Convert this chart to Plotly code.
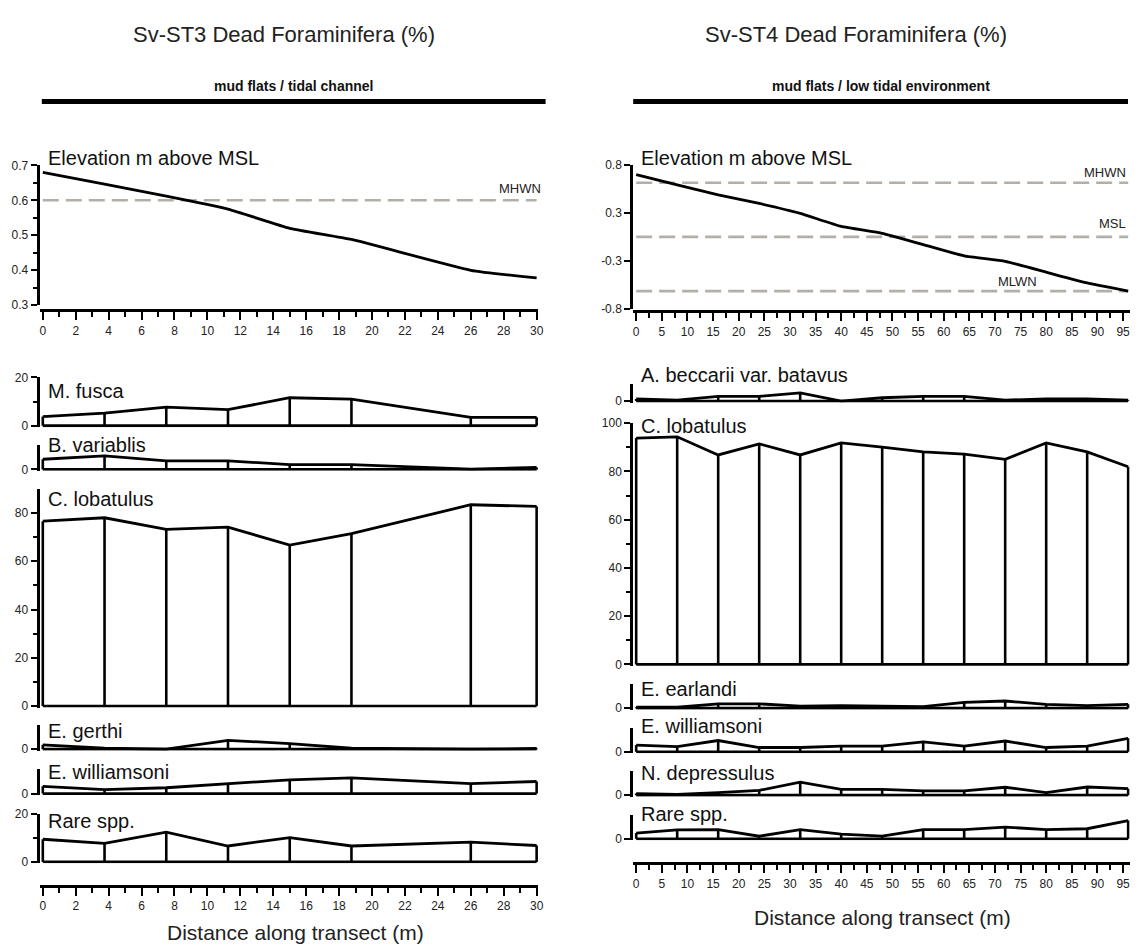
import plotly.graph_objects as go

W, H = 1138, 951
FONT = "Arial, Liberation Sans, sans-serif"

# ---------------- data : Sv-ST3 ----------------
st3_dist = [0, 3.75, 7.5, 11.25, 15, 18.75, 26, 30]
st3_elev = [0.68, 0.646, 0.612, 0.575, 0.52, 0.488, 0.40, 0.378]
st3_level_names = ["MHWN"]
st3_level_values = [0.6]
st3_m_fusca = [3.8, 5.2, 7.7, 6.7, 11.6, 11.0, 3.5, 3.5]
st3_b_variablis = [4.2, 5.6, 3.5, 3.5, 2.0, 2.0, 0.1, 0.8]
st3_c_lobatulus = [76.6, 78.0, 73.2, 74.1, 66.7, 71.4, 83.4, 82.7]
st3_e_gerthi = [1.8, 0.4, 0.0, 3.7, 2.3, 0.4, 0.0, 0.3]
st3_e_williamsoni = [3.0, 1.6, 2.4, 4.1, 5.7, 6.5, 4.1, 5.0]
st3_rare = [9.4, 7.7, 12.3, 6.6, 10.1, 6.6, 8.2, 6.8]

# ---------------- data : Sv-ST4 ----------------
st4_dist = [0, 8, 16, 24, 32, 40, 48, 56, 64, 72, 80, 88, 96]
st4_elev = [0.69, 0.575, 0.465, 0.37, 0.26, 0.116, 0.04, -0.085, -0.21, -0.27, -0.39, -0.51, -0.6]
st4_level_names = ["MHWN", "MSL", "MLWN"]
st4_level_values = [0.6, 0.0, -0.6]
st4_a_beccarii = [0.9, 0.4, 2.0, 2.0, 3.4, 0.0, 1.4, 2.0, 2.0, 0.4, 0.9, 0.9, 0.4]
st4_c_lobatulus = [93.8, 94.3, 86.8, 91.4, 86.8, 91.8, 90.0, 88.1, 87.1, 85.0, 91.8, 88.1, 81.9]
st4_e_earlandi = [0.4, 0.4, 1.8, 1.8, 0.9, 1.1, 0.9, 0.7, 2.4, 3.0, 1.6, 1.1, 1.6]
st4_e_williamsoni = [2.8, 2.2, 4.7, 1.8, 1.8, 2.4, 2.4, 4.1, 2.4, 4.5, 1.8, 2.4, 5.6]
st4_n_depressulus = [0.7, 0.3, 1.1, 2.0, 5.4, 2.4, 2.4, 1.8, 1.8, 3.3, 1.1, 3.4, 2.7]
st4_rare = [2.4, 3.7, 3.8, 1.1, 3.8, 2.0, 1.1, 3.8, 3.8, 4.9, 3.8, 4.2, 7.6]

st3_titles = ["Sv-ST3 Dead Foraminifera (%)", "mud flats / tidal channel"]
st4_titles = ["Sv-ST4 Dead Foraminifera (%)", "mud flats / low tidal environment"]
x_title = "Distance along transect (m)"
elev_label = "Elevation m above MSL"

# ---------------- layout helpers ----------------
def py(p):
    return 1 - p / H


def px(p):
    return p / W


def ydom(pa, va, pb, vb, lo, hi):
    ppu = (pa - pb) / (vb - va)
    bottom = pa + (va - lo) * ppu
    top = pa - (hi - va) * ppu
    return [py(bottom), py(top)]


def xdom(pa, va, pb, vb, lo, hi):
    ppu = (pb - pa) / (vb - va)
    left = pa - (va - lo) * ppu
    right = pa + (hi - va) * ppu
    return [px(left), px(right)]


PPU = 2.45  # pixels per percent in species panels

fig = go.Figure()
layout = dict(
    width=W, height=H, margin=dict(l=0, r=0, t=0, b=0),
    paper_bgcolor="white", plot_bgcolor="white", showlegend=False,
    font=dict(family=FONT, color="#1a1a1a"),
)
annotations = []
shapes = []

AX_LW = 2.8
LINE_W = 2.8
TICKF = dict(family=FONT, size=12, color="#222")


def yaxis_common(**kw):
    d = dict(showline=True, linewidth=AX_LW, linecolor="black", ticks="outside",
             ticklen=6, tickwidth=2.3, tickcolor="black", showgrid=False,
             zeroline=False, tickfont=TICKF, fixedrange=True)
    d.update(kw)
    return d


def xaxis_common(**kw):
    d = dict(showline=True, linewidth=AX_LW, linecolor="black", ticks="outside",
             ticklen=8, tickwidth=2.3, tickcolor="black", showgrid=False,
             zeroline=False, tickfont=TICKF, fixedrange=True)
    d.update(kw)
    return d


def add_species(xname, yname, dist, vals):
    fig.add_trace(go.Scatter(x=dist, y=vals, mode="lines", xaxis=xname, yaxis=yname,
                             line=dict(color="black", width=LINE_W), hoverinfo="skip"))
    fig.add_trace(go.Scatter(x=[dist[0], dist[-1]], y=[0, 0], mode="lines",
                             xaxis=xname, yaxis=yname,
                             line=dict(color="black", width=LINE_W), hoverinfo="skip"))
    vx, vy = [], []
    for d, v in zip(dist, vals):
        vx += [d, d, None]
        vy += [0, v, None]
    fig.add_trace(go.Scatter(x=vx, y=vy, mode="lines", xaxis=xname, yaxis=yname,
                             line=dict(color="black", width=2.6), hoverinfo="skip"))


def label(text, xp, yp, size=20, anchor="left", color="#111"):
    annotations.append(dict(text=text, x=px(xp), y=py(yp), xref="paper", yref="paper",
                            xanchor=anchor, yanchor="middle", showarrow=False,
                            font=dict(family=FONT, size=size, color=color)))


def build_column(col, dist, elev, lvl_names, lvl_vals, species, x0px, xendpx, xend_val,
                 xlo, xhi, elev_cfg, xdtick, xminor, elev_axis_px, bottom_axis_px,
                 title, header, title_cx, bar, label_x, lvl_label_pos, axis_title_y):
    xe, xs = f"x{2*col-1}", f"x{2*col}"
    xe_key, xs_key = ("xaxis" if col == 1 else f"xaxis{2*col-1}"), f"xaxis{2*col}"
    xd = xdom(x0px, 0, xendpx, xend_val, xlo, xhi)
    for key, pos in ((xe_key, elev_axis_px), (xs_key, bottom_axis_px)):
        layout[key] = xaxis_common(domain=xd, range=[xlo, xhi], anchor="free",
                                   position=py(pos), dtick=xdtick, tick0=0,
                                   minor=dict(dtick=xminor, ticks="outside", ticklen=5,
                                              tickwidth=2.3, tickcolor="black"))
    yi = 1 if col == 1 else 8
    ey = f"y{yi}" if yi > 1 else "y"
    ey_key = "yaxis" if yi == 1 else f"yaxis{yi}"
    (pa, va, pb, vb, lo, hi, tickvals, ticktext, minor) = elev_cfg
    ycfg = yaxis_common(domain=ydom(pa, va, pb, vb, lo, hi), range=[lo, hi], anchor=xe,
                        tickmode="array", tickvals=tickvals, ticktext=ticktext)
    if minor:
        ycfg["minor"] = dict(tickmode="array", tickvals=minor, ticks="outside", ticklen=4,
                             tickwidth=2.3, tickcolor="black")
    layout[ey_key] = ycfg
    for nm, lv in zip(lvl_names, lvl_vals):
        fig.add_trace(go.Scatter(x=[dist[0], dist[-1]], y=[lv, lv], mode="lines",
                                 xaxis=xe, yaxis=ey, hoverinfo="skip",
                                 line=dict(color="#b3afa8", width=2.6, dash="16px,7px")))
    fig.add_trace(go.Scatter(x=dist, y=elev, mode="lines", xaxis=xe, yaxis=ey,
                             line=dict(color="black", width=2.8, shape="spline", smoothing=0.4),
                             hoverinfo="skip"))
    label(elev_label, label_x, 153, size=20)
    for nm, (lx, ly, anc) in zip(lvl_names, lvl_label_pos):
        label(nm, lx, ly, size=13, anchor=anc, color="#222")
    for k, (name, vals, zero_px, top_val, tickvals, minorvals, lab_y) in enumerate(species):
        idx = yi + 1 + k
        yname = f"y{idx}"
        ykey = f"yaxis{idx}"
        ycfg = yaxis_common(domain=ydom(zero_px, 0, zero_px - top_val * PPU, top_val,
                                        -0.6, top_val),
                            range=[-0.6, top_val], anchor=xs,
                            tickmode="array", tickvals=tickvals,
                            ticktext=[str(t) for t in tickvals])
        if minorvals:
            ycfg["minor"] = dict(tickmode="array", tickvals=minorvals, ticks="outside",
                                 ticklen=4, tickwidth=2.3, tickcolor="black")
        layout[ykey] = ycfg
        add_species(xs, yname, dist, vals)
        label(name, label_x, lab_y, size=20)
    label(title, title_cx, 28, size=22, anchor="center", color="#222")
    annotations.append(dict(text="<b>" + header + "</b>", x=px((bar[0] + bar[1]) / 2),
                            y=py(80), xref="paper", yref="paper", xanchor="center",
                            yanchor="middle", showarrow=False,
                            font=dict(family=FONT, size=14, color="#111")))
    shapes.append(dict(type="rect", xref="paper", yref="paper", x0=px(bar[0]), x1=px(bar[1]),
                       y0=py(98.5), y1=py(93.5), fillcolor="black", line=dict(width=0)))
    label(x_title, (bar[0] + bar[1]) / 2 + 2, axis_title_y, size=21, anchor="center",
          color="#222")


# ---------------- left column (ST3) ----------------
st3_species = [
    ("M. fusca", st3_m_fusca, 425, 20, [0, 20], [10], 390),
    ("B. variablis", st3_b_variablis, 469.3, 10, [0], None, 445),
    ("C. lobatulus", st3_c_lobatulus, 709.5, 90, [0, 20, 40, 60, 80], [10, 30, 50, 70], 499),
    ("E. gerthi", st3_e_gerthi, 753.3, 10, [0], None, 735),
    ("E. williamsoni", st3_e_williamsoni, 798.3, 10, [0], None, 776),
    ("Rare spp.", st3_rare, 867.7, 20, [0, 20], [10], 826),
]
build_column(
    1, st3_dist, st3_elev, st3_level_names, st3_level_values, st3_species,
    x0px=43, xendpx=539, xend_val=30, xlo=-0.2, xhi=30.1,
    elev_cfg=(302.7, 0.3, 160.7, 0.7, 0.3, 0.7, [0.3, 0.4, 0.5, 0.6, 0.7],
              ["0.3", "0.4", "0.5", "0.6", "0.7"], [0.35, 0.45, 0.55, 0.65]),
    xdtick=2, xminor=1, elev_axis_px=308, bottom_axis_px=892,
    title=st3_titles[0], header=st3_titles[1], title_cx=285, bar=(42, 548),
    label_x=46, lvl_label_pos=[(545, 184, "right")], axis_title_y=939,
)

# ---------------- right column (ST4) ----------------
st4_species = [
    ("A. beccarii var. batavus", st4_a_beccarii, 400, 7, [0], None, 374),
    ("C. lobatulus", st4_c_lobatulus, 667.3, 100, [0, 20, 40, 60, 80, 100],
     [10, 30, 50, 70, 90], 425),
    ("E. earlandi", st4_e_earlandi, 711.7, 10, [0], None, 692),
    ("E. williamsoni", st4_e_williamsoni, 756, 10, [0], None, 730),
    ("N. depressulus", st4_n_depressulus, 800, 10, [0], None, 777),
    ("Rare spp.", st4_rare, 844.3, 10, [0], None, 819),
]
build_column(
    2, st4_dist, st4_elev, st4_level_names, st4_level_values, st4_species,
    x0px=639, xendpx=1128, xend_val=95, xlo=-0.6, xhi=96.3,
    elev_cfg=(306.7, -0.8, 160, 0.8, -0.8, 0.8, [-0.8, -0.2667, 0.2667, 0.8],
              ["-0.8", "-0.3", "0.3", "0.8"], None),
    xdtick=5, xminor=2.5, elev_axis_px=309, bottom_axis_px=869,
    title=st4_titles[0], header=st4_titles[1], title_cx=860, bar=(636, 1133),
    label_x=642, lvl_label_pos=[(1133, 168, "right"), (1133, 220, "right"),
                                (1022, 279, "center")], axis_title_y=924,
)

layout["annotations"] = annotations
layout["shapes"] = shapes
fig.update_layout(**layout)
fig.write_html("out.html")
